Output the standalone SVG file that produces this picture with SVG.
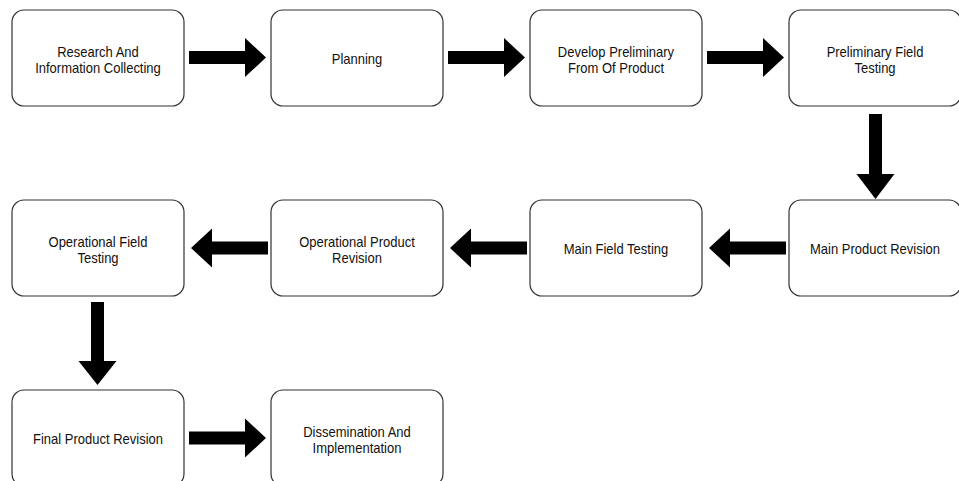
<svg xmlns="http://www.w3.org/2000/svg" width="959" height="481" viewBox="0 0 959 481">
<style>
.box{fill:#fff;stroke:#333;stroke-width:1.2}
.lbl{font-family:"Liberation Sans",Arial,Helvetica,sans-serif;font-size:13px;fill:#111;text-anchor:middle}
.arr{fill:#000;stroke:none}
</style>
<rect width="959" height="481" fill="#fff"/>
<g id="n1"><rect class="box" x="12" y="10" width="172" height="96" rx="12"/><text class="lbl" transform="translate(98,58) scale(1,1.15)"><tspan x="0" y="-1.3">Research And</tspan><tspan x="0" y="13.3">Information Collecting</tspan></text></g>
<g id="n2"><rect class="box" x="271" y="10" width="172" height="96" rx="12"/><text class="lbl" transform="translate(357,58) scale(1,1.15)"><tspan x="0" y="5.2">Planning</tspan></text></g>
<g id="n3"><rect class="box" x="530" y="10" width="172" height="96" rx="12"/><text class="lbl" transform="translate(616,58) scale(1,1.15)"><tspan x="0" y="-1.3">Develop Preliminary</tspan><tspan x="0" y="13.3">From Of Product</tspan></text></g>
<g id="n4"><rect class="box" x="789" y="10" width="172" height="96" rx="12"/><text class="lbl" transform="translate(875,58) scale(1,1.15)"><tspan x="0" y="-1.3">Preliminary Field</tspan><tspan x="0" y="13.3">Testing</tspan></text></g>
<g id="n5"><rect class="box" x="789" y="200" width="172" height="96" rx="12"/><text class="lbl" transform="translate(875,248) scale(1,1.15)"><tspan x="0" y="5.2">Main Product Revision</tspan></text></g>
<g id="n6"><rect class="box" x="530" y="200" width="172" height="96" rx="12"/><text class="lbl" transform="translate(616,248) scale(1,1.15)"><tspan x="0" y="5.2">Main Field Testing</tspan></text></g>
<g id="n7"><rect class="box" x="271" y="200" width="172" height="96" rx="12"/><text class="lbl" transform="translate(357,248) scale(1,1.15)"><tspan x="0" y="-1.3">Operational Product</tspan><tspan x="0" y="13.3">Revision</tspan></text></g>
<g id="n8"><rect class="box" x="12" y="200" width="172" height="96" rx="12"/><text class="lbl" transform="translate(98,248) scale(1,1.15)"><tspan x="0" y="-1.3">Operational Field</tspan><tspan x="0" y="13.3">Testing</tspan></text></g>
<g id="n9"><rect class="box" x="12" y="390" width="172" height="96" rx="12"/><text class="lbl" transform="translate(98,438) scale(1,1.15)"><tspan x="0" y="5.2">Final Product Revision</tspan></text></g>
<g id="n10"><rect class="box" x="271" y="390" width="172" height="96" rx="12"/><text class="lbl" transform="translate(357,438) scale(1,1.15)"><tspan x="0" y="-1.3">Dissemination And</tspan><tspan x="0" y="13.3">Implementation</tspan></text></g>
<g id="connectors">
<polygon class="arr" points="189,51 245,51 245,38 266,57.5 245,77 245,64 189,64"/>
<polygon class="arr" points="448,51 504,51 504,38 525,57.5 504,77 504,64 448,64"/>
<polygon class="arr" points="707,51 763,51 763,38 784,57.5 763,77 763,64 707,64"/>
<polygon class="arr" points="869,114 882,114 882,174 894.5,174 875.5,199 856.5,174 869,174"/>
<polygon class="arr" points="786,241.5 730,241.5 730,228.5 709,248 730,267.5 730,254.5 786,254.5"/>
<polygon class="arr" points="527,241.5 471,241.5 471,228.5 450,248 471,267.5 471,254.5 527,254.5"/>
<polygon class="arr" points="268,241.5 212,241.5 212,228.5 191,248 212,267.5 212,254.5 268,254.5"/>
<polygon class="arr" points="91,302 104,302 104,361 116.5,361 97.5,385 78.5,361 91,361"/>
<polygon class="arr" points="189,431.5 245,431.5 245,418.5 266,438 245,457.5 245,444.5 189,444.5"/>
</g>
</svg>
